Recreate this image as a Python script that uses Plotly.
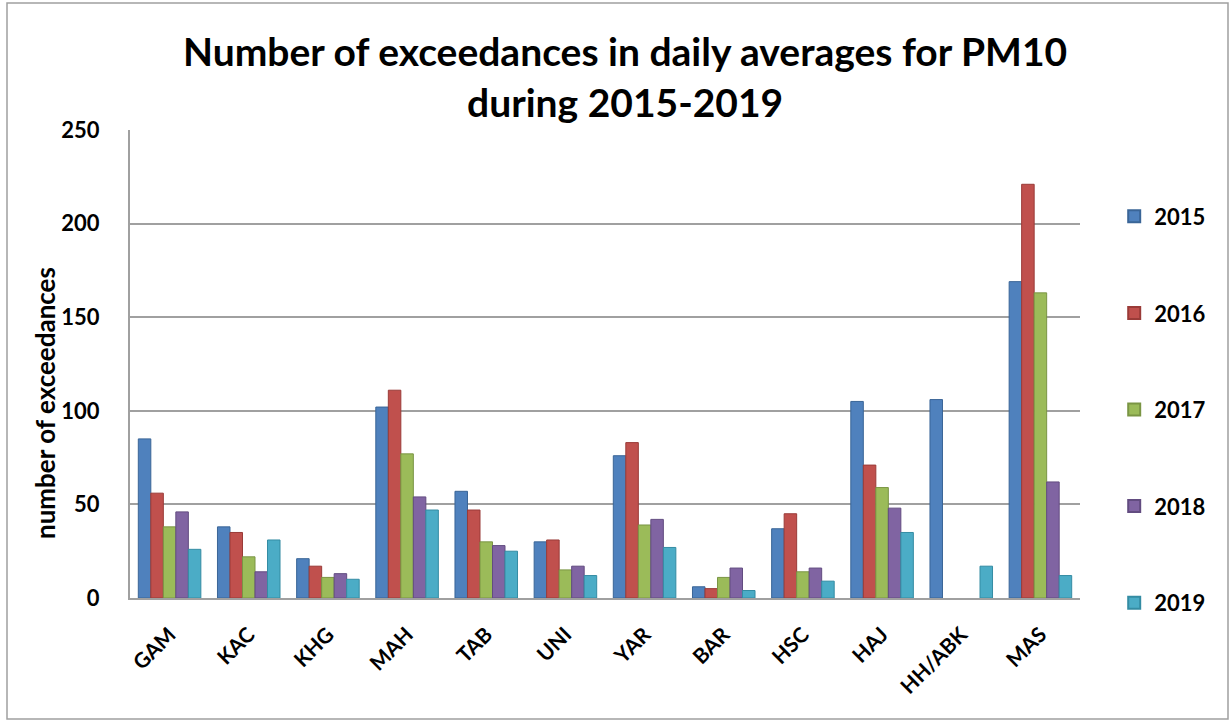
import plotly.graph_objects as go

categories = ["GAM", "KAC", "KHG", "MAH", "TAB", "UNI", "YAR", "BAR", "HSC", "HAJ", "HH/ABK", "MAS"]
years = ["2015", "2016", "2017", "2018", "2019"]
v2015 = [85, 38, 21, 102, 57, 30, 76, 6, 37, 105, 106, 169]
v2016 = [56, 35, 17, 111, 47, 31, 83, 5, 45, 71, None, 221]
v2017 = [38, 22, 11, 77, 30, 15, 39, 11, 14, 59, None, 163]
v2018 = [46, 14, 13, 54, 28, 17, 42, 16, 16, 48, None, 62]
v2019 = [26, 31, 10, 47, 25, 12, 27, 4, 9, 35, 17, 12]
series = [v2015, v2016, v2017, v2018, v2019]
colors = ["#4F81BD", "#C0504D", "#9BBB59", "#8064A2", "#4BACC6"]
lines = ["#3A6597", "#9A3B38", "#7A9544", "#624C80", "#348CA3"]

FONT = "Lato"
fig = go.Figure()
for y, vals, c, lc in zip(years, series, colors, lines):
    fig.add_trace(go.Bar(x=categories, y=vals, name=y, legendgroup=y,
                         marker=dict(color=c, line=dict(color=lc, width=1))))

fig.update_layout(
    width=1231, height=722,
    margin=dict(l=130, r=151, t=130, b=124),
    paper_bgcolor="white", plot_bgcolor="white",
    barmode="group", bargap=0.21, bargroupgap=0,
    font=dict(family=FONT, color="black", size=18),
    showlegend=True,
    legend=dict(x=1.036, y=0.86, xanchor="left", yanchor="top",
                tracegroupgap=65, font=dict(size=22, family=FONT, weight="bold"),
                itemsizing="constant", itemwidth=30, bgcolor="rgba(0,0,0,0)"),
    xaxis=dict(tickangle=-45, showgrid=False, showline=True, linecolor="#A0A0A0", linewidth=2,
               tickfont=dict(size=21, family=FONT, weight="bold"),
               ticks="outside", ticklen=14, tickcolor="rgba(0,0,0,0)"),
    yaxis=dict(range=[0, 250], dtick=50, showgrid=True, gridcolor="#A0A0A0", gridwidth=2,
               showline=True, linecolor="#A0A0A0", linewidth=2, zeroline=False,
               ticks="outside", ticklen=24, tickcolor="rgba(0,0,0,0)",
               tickfont=dict(size=22, family=FONT, weight="bold")),
)

fig.add_annotation(text="Number of exceedances in daily averages for PM10<br>during 2015-2019",
                   xref="paper", yref="paper", x=(625 - 130) / 950, y=(598 - 26) / 468,
                   xanchor="center", yanchor="top", showarrow=False,
                   font=dict(size=39, family=FONT, weight="bold", color="black"))
fig.add_annotation(text="number of exceedances", xref="paper", yref="paper",
                   x=(45 - 130) / 950, y=(598 - 403) / 468, textangle=-90,
                   xanchor="center", yanchor="middle", showarrow=False,
                   font=dict(size=26, family=FONT, weight="bold", color="black"))
fig.add_shape(type="rect", xref="paper", yref="paper",
              x0=(7 - 130) / 950, x1=(1228 - 130) / 950,
              y0=(598 - 719) / 468, y1=(598 - 3) / 468,
              line=dict(color="#A0A0A0", width=1.5), layer="below")

fig.write_html("out.html")
